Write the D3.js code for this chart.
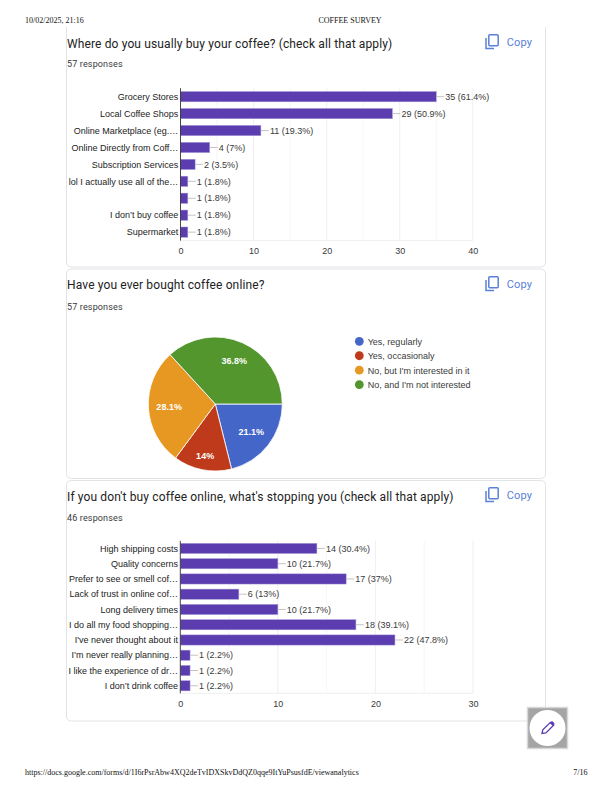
<!DOCTYPE html>
<html><head><meta charset="utf-8">
<style>html,body{margin:0;padding:0;background:#fff}svg{display:block}</style>
<script src="https://cdn.jsdelivr.net/npm/d3@7/dist/d3.min.js"></script>
</head><body><svg id="c" width="612" height="792"></svg>
<script>
const buyCategories=["Grocery Stores","Local Coffee Shops","Online Marketplace (eg.…","Online Directly from Coff…","Subscription Services","lol I actually use all of the…","","I don’t buy coffee","Supermarket"];
const buyCounts=[35,29,11,4,2,1,1,1,1];
const buyLabels=["35 (61.4%)","29 (50.9%)","11 (19.3%)","4 (7%)","2 (3.5%)","1 (1.8%)","1 (1.8%)","1 (1.8%)","1 (1.8%)"];
const buyTicks=[0,10,20,30,40];
const onlineCategories=["Yes, regularly","Yes, occasionaly","No, but I'm interested in it","No, and I'm not interested"];
const onlineShares=[21.1,14,28.1,36.8];
const onlineLabels=["21.1%","14%","28.1%","36.8%"];
const onlineColors=["#4466c8","#bf3a1a","#e69823","#53962d"];
const stopCategories=["High shipping costs","Quality concerns","Prefer to see or smell cof…","Lack of trust in online cof…","Long delivery times","I do all my food shopping…","I've never thought about it","I’m never really planning…","I like the experience of dr…","I don’t drink coffee"];
const stopCounts=[14,10,17,6,10,18,22,1,1,1];
const stopLabels=["14 (30.4%)","10 (21.7%)","17 (37%)","6 (13%)","10 (21.7%)","18 (39.1%)","22 (47.8%)","1 (2.2%)","1 (2.2%)","1 (2.2%)"];
const stopTicks=[0,10,20,30];

const svg=d3.select("#c");
const SANS="'Liberation Sans',Arial,sans-serif", ROB="Roboto,sans-serif", SERIF="'Liberation Serif',serif";
const BAR="#5b3db0", INK="#222", MUTE="#3a3a3a";

function pageText(x,y,t,a){return svg.append("text").attr("x",x).attr("y",y).attr("text-anchor",a||"start")
  .attr("font-family",SERIF).attr("font-size",8).attr("fill","#111").text(t);}
pageText(25,22.5,"10/02/2025, 21:16");
pageText(350,22.5,"COFFEE SURVEY","middle");
pageText(25,775,"https://docs.google.com/forms/d/1I6rPsrAbw4XQ2deTvIDXSkvDdQZ0qqe9ItYuPsusfdE/viewanalytics");
pageText(587.5,775,"7/16","end");

function card(top,bottom,openTop){
  const x0=66.5,x1=545.5,r=5;
  const p=openTop
    ?`M${x0},${top}V${bottom-r}Q${x0},${bottom} ${x0+r},${bottom}H${x1-r}Q${x1},${bottom} ${x1},${bottom-r}V${top}`
    :`M${x0+r},${top}H${x1-r}Q${x1},${top} ${x1},${top+r}V${bottom-r}Q${x1},${bottom} ${x1-r},${bottom}H${x0+r}Q${x0},${bottom} ${x0},${bottom-r}V${top+r}Q${x0},${top} ${x0+r},${top}Z`;
  svg.append("path").attr("d",p).attr("fill","none").attr("stroke","#e2e3e6").attr("stroke-width",1);
}
card(27,267,true);card(269,478.5);card(480.5,721);

function heading(title,resp,yT,yR){
  svg.append("text").attr("x",67).attr("y",yT).attr("font-family",ROB).attr("font-size",12).attr("letter-spacing",0.13).attr("fill",INK).text(title);
  svg.append("text").attr("x",67).attr("y",yR).attr("font-family",ROB).attr("font-size",9).attr("letter-spacing",0.15).attr("fill",MUTE).text(resp);
}
function copy(y){
  const g=svg.append("g").attr("transform",`translate(485,${y})`).attr("fill","none").attr("stroke","#5a80d8").attr("stroke-width",1.5);
  g.append("path").attr("d","M1,4V14.5H9");
  g.append("rect").attr("x",3.8).attr("y",0.8).attr("width",9.4).attr("height",11).attr("rx",1);
  svg.append("text").attr("x",506.7).attr("y",y+11.5).attr("font-family",ROB).attr("font-size",11).attr("letter-spacing",0.2).attr("fill","#5a80d8").text("Copy");
}

function barChart(cats,vals,labels,ticks,x0,x1,top,bottom,barH){
  const max=ticks[ticks.length-1];
  const x=d3.scaleLinear().domain([0,max]).range([x0,x1]);
  const y=d3.scaleBand().domain(d3.range(cats.length)).range([top,bottom]);
  const g=svg.append("g");
  const minor=ticks.slice(1).map(t=>t-5);
  g.selectAll("line.m").data(minor).join("line").attr("x1",x).attr("x2",x).attr("y1",top).attr("y2",bottom).attr("stroke","#f4f4f5").attr("stroke-width",.8);
  g.selectAll("line.j").data(ticks.slice(1)).join("line").attr("x1",x).attr("x2",x).attr("y1",top).attr("y2",bottom).attr("stroke","#ebebec").attr("stroke-width",.8);
  g.append("line").attr("x1",x0).attr("x2",x1).attr("y1",bottom).attr("y2",bottom).attr("stroke","#ebebec").attr("stroke-width",.8);
  const c=i=>y(i)+y.bandwidth()/2;
  g.selectAll("rect").data(vals).join("rect").attr("x",x0).attr("y",(d,i)=>c(i)-barH/2).attr("width",d=>x(d)-x0).attr("height",barH)
    .attr("fill",BAR).attr("stroke","#a99bd8").attr("stroke-width",.5);
  g.selectAll("line.l").data(vals).join("line").attr("x1",d=>x(d)).attr("x2",d=>x(d)+8).attr("y1",(d,i)=>c(i)).attr("y2",(d,i)=>c(i)).attr("stroke","#bdbdbd").attr("stroke-width",.9);
  g.selectAll("text.v").data(labels).join("text").attr("x",(d,i)=>x(vals[i])+9).attr("y",(d,i)=>c(i)+3.2)
    .attr("font-family",SANS).attr("font-size",9).attr("fill",MUTE).text(d=>d);
  g.selectAll("text.c").data(cats).join("text").attr("x",x0-2.2).attr("y",(d,i)=>c(i)+3.2).attr("text-anchor","end")
    .attr("font-family",SANS).attr("font-size",9).attr("fill",INK).text(d=>d);
  g.append("line").attr("x1",x0).attr("x2",x0).attr("y1",top).attr("y2",bottom).attr("stroke","#333").attr("stroke-width",.9);
  const ax=g.append("g").attr("transform",`translate(0,${bottom+13.5})`).call(d3.axisBottom(x).tickValues(ticks).tickSize(0).tickPadding(0));
  ax.select(".domain").remove();
  ax.selectAll("text").attr("font-family",SANS).attr("font-size",9).attr("fill",MUTE).attr("dy",0).attr("y",0);
}

heading("Where do you usually buy your coffee? (check all that apply)","57 responses",47.5,67);
copy(34);
barChart(buyCategories,buyCounts,buyLabels,buyTicks,180.5,472.8,88.2,240.6,10.3);

heading("Have you ever bought coffee online?","57 responses",288.5,309.5);
copy(276);
const cx=215.3,cy=404,R=67;
const labelRadius=[0.68,0.785,0.69,0.70];
const pie=d3.pie().sort(null).startAngle(Math.PI/2).endAngle(Math.PI*2.5)(onlineShares);
const arc=d3.arc().innerRadius(0).outerRadius(R);
const pg=svg.append("g").attr("transform",`translate(${cx},${cy})`);
pg.selectAll("path").data(pie).join("path").attr("d",arc).attr("fill",(d,i)=>onlineColors[i]).attr("stroke","#fff").attr("stroke-width",.8);
pg.selectAll("text").data(pie).join("text")
  .attr("transform",(d,i)=>`translate(${d3.arc().innerRadius(R*labelRadius[i]).outerRadius(R*labelRadius[i]).centroid(d)})`)
  .attr("text-anchor","middle").attr("dy",3.2)
  .attr("font-family",SANS).attr("font-size",9).attr("font-weight",700).attr("fill","#fff").text((d,i)=>onlineLabels[i]);
const ly=d3.scaleLinear().domain([0,3]).range([341.3,384.6]);
const lg=svg.append("g");
lg.selectAll("circle").data(onlineCategories).join("circle").attr("cx",359.3).attr("cy",(d,i)=>ly(i)).attr("r",4.4).attr("fill",(d,i)=>onlineColors[i]);
lg.selectAll("text").data(onlineCategories).join("text").attr("x",367.7).attr("y",(d,i)=>ly(i)+3.5).attr("font-family",SANS).attr("font-size",9).attr("fill",MUTE).text(d=>d);

heading("If you don't buy coffee online, what's stopping you (check all that apply)","46 responses",501,520.5);
copy(487);
barChart(stopCategories,stopCounts,stopLabels,stopTicks,180.3,473,540.8,693.4,10.2);

svg.append("rect").attr("x",527.5).attr("y",707.5).attr("width",40).attr("height",41).attr("fill","#a5a5a5").attr("stroke","#d8d8d8").attr("stroke-width",1.5);
svg.append("circle").attr("cx",547.5).attr("cy",728).attr("r",18).attr("fill","#fff");
svg.append("path").attr("d","M542,733.5 L542.8,729.8 L550.5,722.3 L553.6,725.3 L545.9,732.9 Z").attr("fill","#fff").attr("stroke",BAR).attr("stroke-width",1.3);
svg.append("path").attr("d","M549.8,723 L551.3,721.6 Q552,721 552.8,721.6 L554.3,723.2 Q554.8,724 554.2,724.7 L552.8,726 Z").attr("fill",BAR);
</script></body></html>
